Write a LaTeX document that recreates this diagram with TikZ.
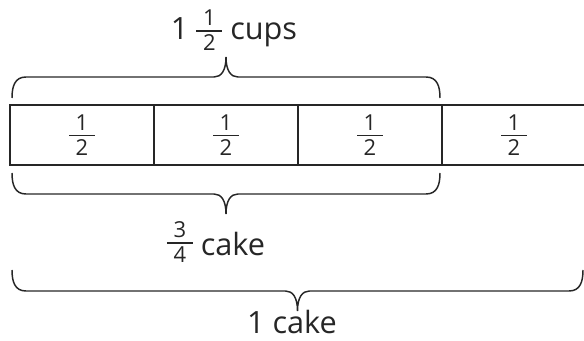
\documentclass[tikz,border=0pt]{standalone}
\usepackage{fontspec}
\setmainfont{Open Sans}
\usetikzlibrary{positioning}
\definecolor{ink}{HTML}{262626}
\newcommand{\fracfont}{\fontsize{16.5}{17}\selectfont}
% stacked fraction, optional height of its bar above the baseline
\newcommand{\fr}[3][0pt]{{\fracfont\raisebox{\dimexpr#1-\fontcharht\font`0-2.85pt\relax}{%
  \vbox{\offinterlineskip\halign{\hskip5pt\hfil##\hfil\hskip5pt\cr
    #2\cr\noalign{\kern3pt\hrule height1.3pt\kern2.2pt}
    #3\cr}}}}}
% curly brace: left x, right x, end y, direction
\newcommand{\curly}[4]{%
  \draw[bracket] (#1,#3)
    .. controls (#1,{#3+#4*12}) and ({#1+3},{#3+#4*21}) .. ({#1+14},{#3+#4*21})
    -- ({(#1+#2)/2-12},{#3+#4*21})
    .. controls ({(#1+#2)/2-5},{#3+#4*21}) and ({(#1+#2)/2},{#3+#4*27}) .. ({(#1+#2)/2},{#3+#4*41})
    .. controls ({(#1+#2)/2},{#3+#4*27}) and ({(#1+#2)/2+5},{#3+#4*21}) .. ({(#1+#2)/2+12},{#3+#4*21})
    -- ({#2-14},{#3+#4*21})
    .. controls ({#2-3},{#3+#4*21}) and (#2,{#3+#4*12}) .. (#2,#3);}
\tikzset{
  cell/.style={draw=ink, line width=2.2pt, minimum width=108pt, minimum height=45pt,
    inner sep=0pt, outer sep=0pt, text=ink},
  bracket/.style={draw=ink, line width=1.1pt},
  lbl/.style={font=\fontsize{23}{27}\selectfont, text=ink, anchor=base, inner sep=0pt}
}
\begin{document}
\begin{tikzpicture}[x=0.75pt,y=-0.75pt]
\useasboundingbox (0,0) rectangle (584,341);
% the bar, four halves
\node[cell] (h1) at (82,135) {\fr{1}{2}};
\node[cell,right=0pt of h1] (h2) {\fr{1}{2}};
\node[cell,right=0pt of h2] (h3) {\fr{1}{2}};
\node[cell,right=0pt of h3] (h4) {\fr{1}{2}};

% braces
\curly{12}{440}{98}{(-1)}
\curly{12}{440}{173}{1}
\curly{12}{583}{270}{1}

% labels
\node[lbl] (cups) at (234,40) {1 \fr[6.75pt]{1}{2} cups};
\node[lbl] (part) at (216,256) {\fr[9.75pt]{3}{4} cake};
\node[lbl] (whole) at (292,334) {1 cake};
\end{tikzpicture}
\end{document}
